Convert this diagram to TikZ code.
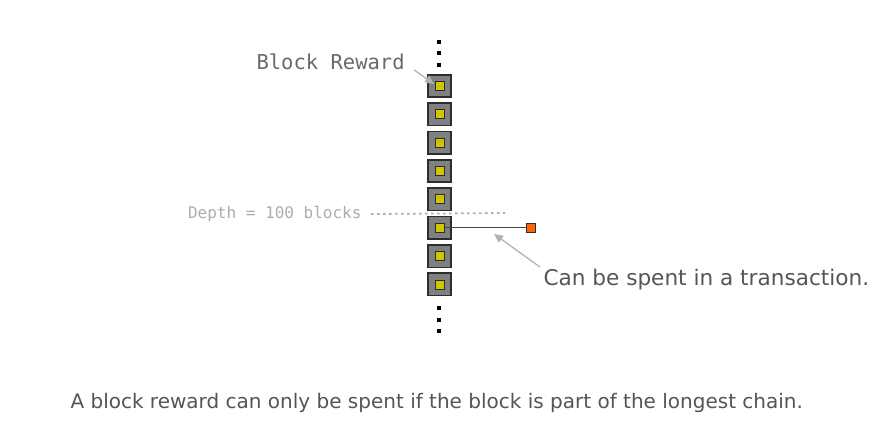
\documentclass[tikz,border=0pt]{standalone}
\usepackage{fontspec}
\setmainfont{DejaVu Sans}
\setmonofont{DejaVu Sans Mono}
\usetikzlibrary{arrows.meta,positioning}
\definecolor{blockgray}{RGB}{128,128,128}
\definecolor{blockedge}{RGB}{45,45,45}
\definecolor{rewardyellow}{RGB}{208,198,0}
\definecolor{spendorange}{RGB}{255,100,0}
\definecolor{labelgray}{RGB}{105,105,105}
\definecolor{depthgray}{RGB}{172,172,172}
\definecolor{pointergray}{RGB}{178,178,178}
\definecolor{textgray}{RGB}{85,85,85}
\definecolor{wiregray}{RGB}{70,70,70}

\tikzset{
  block/.style={draw=blockedge,fill=blockgray,line width=1.6pt,
    minimum width=23.4pt,minimum height=22.4pt,inner sep=0pt},
  reward/.style={draw=blockedge,fill=rewardyellow,line width=0.9pt,
    minimum size=9pt,inner sep=0pt},
  spend/.style={draw=blockedge,fill=spendorange,line width=0.9pt,
    minimum size=9pt,inner sep=0pt},
  chaindot/.style={fill=black,minimum size=4pt,inner sep=0pt},
  pointer/.style={draw=pointergray,line width=1.3pt,
    -{Triangle[length=9pt,width=8pt]}}
}

\begin{document}
\begin{tikzpicture}[x=1pt,y=-1pt]
  \useasboundingbox (0,0) rectangle (881,423);

  % --- chain of blocks ---
  \foreach \i in {1,...,8}{
    \node[block] (b\i) at (439.5,{86+28.35*(\i-1)}) {};
    \node[reward] (r\i) at (b\i) {};
  }

  % chain goes on both ways
  \foreach \y [count=\k] in {42,53,64.5}{
    \node[chaindot] (top\k) at (439,\y) {};
  }
  \foreach \y [count=\k] in {308,319.5,331}{
    \node[chaindot] (bot\k) at (439,\y) {};
  }

  % --- depth marker ---
  \node[anchor=east,text=depthgray,font=\fontsize{16}{18}\selectfont\ttfamily]
    (depth) at (365,214) {Depth = 100 blocks};
  \coordinate (depthend) at (505,213);
  \draw[depthgray,line width=1.8pt,dash pattern=on 2.5pt off 3.5pt]
    ([xshift=6pt]depth.east) -- (depthend);

  % --- spendable output ---
  \node[spend] (out) at ([xshift=91.5pt]r6) {};
  \draw[wiregray,line width=1.2pt] (r6.east) -- (out.west);

  % --- labels ---
  \node[anchor=west,text=labelgray,font=\fontsize{20.5}{23}\selectfont\ttfamily]
    (rewardlabel) at (253,62) {Block Reward};
  \coordinate (rewardtip) at (434,84);
  \draw[pointer] ([xshift=6pt,yshift=-8pt]rewardlabel.east) -- (rewardtip);

  \node[anchor=west,text=textgray,font=\fontsize{21.6}{25}\selectfont]
    (spendlabel) at (540,280) {Can be spent in a transaction.};
  \coordinate (spendtip) at (494,234);
  \draw[pointer] ([yshift=13pt]spendlabel.west) -- (spendtip);

  % --- caption ---
  \node[anchor=west,text=textgray,font=\fontsize{20}{24}\selectfont]
    (caption) at (67,403)
    {A block reward can only be spent if the block is part of the longest chain.};

\end{tikzpicture}
\end{document}
